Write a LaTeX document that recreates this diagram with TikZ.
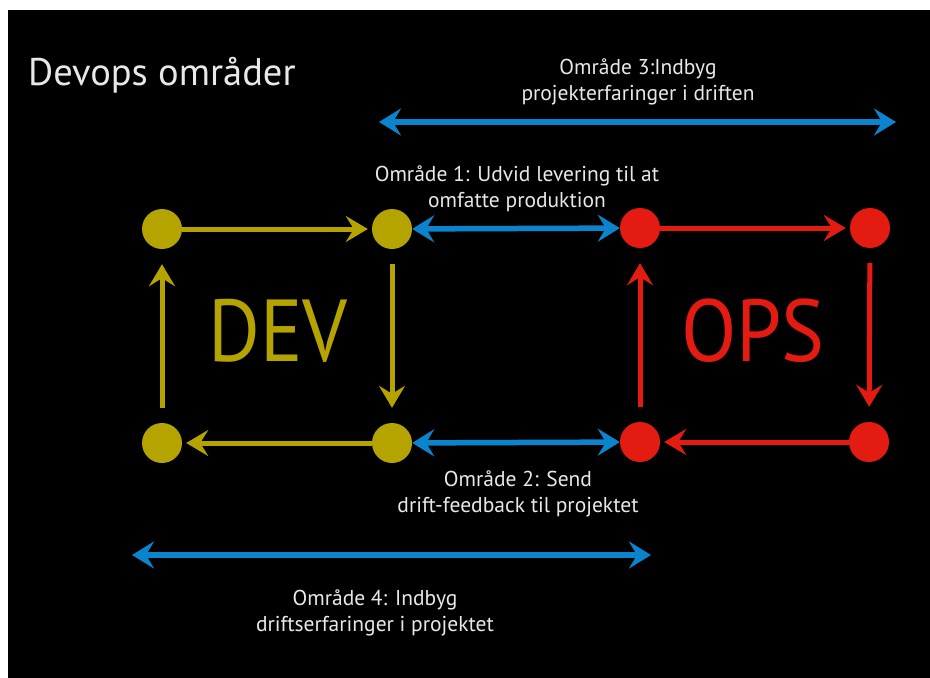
\documentclass[tikz,border=0pt]{standalone}
\usepackage{fontspec}
\setmainfont{PT Sans}
\usetikzlibrary{arrows.meta}
\definecolor{dyel}{HTML}{B5A400}
\definecolor{ored}{HTML}{E31B10}
\definecolor{ablue}{HTML}{0A84CC}
\definecolor{txt}{HTML}{E8E8E8}
\tikzset{
  dot/.style={circle,minimum size=40pt,inner sep=0pt,fill=#1},
  flow/.style={draw=#1,line width=5pt,-{Stealth[length=22pt,width=26pt,inset=8pt]}},
  area/.style={draw=ablue,line width=5.5pt,{Stealth[length=22pt,width=27pt,inset=8pt]}-{Stealth[length=22pt,width=27pt,inset=8pt]}},
  lbl/.style={text=txt,font=\fontsize{21.5}{26}\selectfont,align=center,inner sep=0pt},
  big/.style={font=\fontsize{88}{90}\selectfont,inner sep=0pt}
}
\begin{document}
\begin{tikzpicture}[x=1pt,y=-1pt]
\useasboundingbox (0,0) rectangle (930,678);
\fill[white] (0,0) rectangle (930,678);
\fill[black] (8,10) rectangle (930,678);
\node[anchor=base west,text=txt,font=\fontsize{38.5}{44}\selectfont,inner sep=0pt] (title) at (28,85) {Devops områder};
% circles
\node[dot=dyel] (d1) at (162,229) {};
\node[dot=dyel] (d2) at (392,229) {};
\node[dot=dyel] (d3) at (392,443) {};
\node[dot=dyel] (d4) at (162,443) {};
\node[dot=ored] (o1) at (640,228) {};
\node[dot=ored] (o2) at (870,228) {};
\node[dot=ored] (o3) at (869,442) {};
\node[dot=ored] (o4) at (640,442) {};
% dev loop
\draw[flow=dyel,shorten >=4pt] (d1) -- (d2);
\draw[flow=dyel,shorten <=15pt,shorten >=15pt] (d2) -- (d3);
\draw[flow=dyel,shorten >=4pt] (d3) -- (d4);
\draw[flow=dyel,shorten <=15pt,shorten >=15pt] (d4) -- (d1);
% ops loop
\draw[flow=ored,shorten >=4pt] (o1) -- (o2);
\draw[flow=ored,shorten <=15pt,shorten >=15pt] (o2) -- (o3);
\draw[flow=ored,shorten >=4pt] (o3) -- (o4);
\draw[flow=ored,shorten <=15pt,shorten >=15pt] (o4) -- (o1);
% big labels
\node[big,text=dyel] (dev) at (278,331) {\scalebox{0.9}[1]{DEV}};
\node[big,text=ored] (ops) at (753,331) {\scalebox{0.92}[1]{OPS}};
% area arrows
\draw[area] (d2) -- (o1);
\draw[area] (d3) -- (o4);
\coordinate (a3l) at (379,122);
\coordinate (a3r) at (896,122);
\draw[area] (a3l) -- (a3r);
\coordinate (a4l) at (132,555);
\coordinate (a4r) at (651,555);
\draw[area] (a4l) -- (a4r);
% area labels
\node[lbl] (t3) at (638,82) {Område 3:Indbyg\\projekterfaringer i driften};
\node[lbl] (t1) at (517,189) {Område 1: Udvid levering til at\\omfatte produktion};
\node[lbl] (t2) at (518,494) {Område 2: Send\\drift-feedback til projektet};
\node[lbl] (t4) at (375,613) {Område 4: Indbyg\\driftserfaringer i projektet};
\end{tikzpicture}
\end{document}
